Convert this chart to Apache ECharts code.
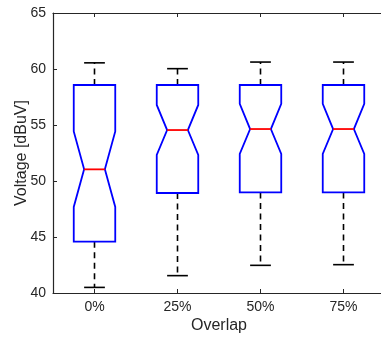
<!DOCTYPE html>
<html>
<head>
<meta charset="utf-8">
<script src="https://cdn.jsdelivr.net/npm/echarts@6/dist/echarts.min.js"></script>
<style>html,body{margin:0;padding:0;background:#fff;overflow:hidden;width:381px;height:338px;}#c{width:390px;height:338px;}</style>
</head>
<body>
<div id="c"></div>
<script>
var categories = ['0%', '25%', '50%', '75%'];
var whiskerLow = [40.5, 41.55, 42.47, 42.53];
var q1 = [44.58, 48.93, 48.98, 48.98];
var notchLow = [47.68, 52.32, 52.41, 52.41];
var median = [51.04, 54.55, 54.64, 54.64];
var notchHigh = [54.43, 56.79, 56.88, 56.88];
var q3 = [58.57, 58.57, 58.57, 58.57];
var whiskerHigh = [60.55, 60.03, 60.62, 60.62];
var yTicks = [40, 45, 50, 55, 60, 65];

var data = categories.map(function (c, i) {
  return [i, whiskerLow[i], q1[i], notchLow[i], median[i], notchHigh[i], q3[i], whiskerHigh[i]];
});

var axisColor = '#262626';
var font = 'Liberation Sans, Arial, Helvetica, sans-serif';

function renderItem(params, api) {
  var idx = api.value(0);
  var band = api.size([1, 0])[0];
  var hw = band * 0.25;
  var nw = band * 0.125;
  var cw = band * 0.125;
  function P(v) { return api.coord([idx, v]); }
  var pMin = P(api.value(1)), pQ1 = P(api.value(2)), pNl = P(api.value(3)),
      pMed = P(api.value(4)), pNh = P(api.value(5)), pQ3 = P(api.value(6)), pMax = P(api.value(7));
  var x = pMed[0];
  var poly = [
    [x - hw, pQ3[1]], [x + hw, pQ3[1]], [x + hw, pNh[1]], [x + nw, pMed[1]], [x + hw, pNl[1]],
    [x + hw, pQ1[1]], [x - hw, pQ1[1]], [x - hw, pNl[1]], [x - nw, pMed[1]], [x - hw, pNh[1]]
  ];
  var dashStyle = { stroke: '#000', lineWidth: 1.6, lineDash: [6, 4.5], fill: null };
  var solid = { stroke: '#000', lineWidth: 1.6, fill: null };
  return {
    type: 'group',
    children: [
      { type: 'line', shape: { x1: x, y1: pQ3[1], x2: x, y2: pMax[1] }, style: dashStyle },
      { type: 'line', shape: { x1: x, y1: pQ1[1], x2: x, y2: pMin[1] }, style: dashStyle },
      { type: 'line', shape: { x1: x - cw, y1: pMax[1], x2: x + cw, y2: pMax[1] }, style: solid },
      { type: 'line', shape: { x1: x - cw, y1: pMin[1], x2: x + cw, y2: pMin[1] }, style: solid },
      { type: 'polygon', shape: { points: poly }, style: { stroke: '#0000ff', lineWidth: 1.8, fill: '#fff' } },
      { type: 'line', shape: { x1: x - nw, y1: pMed[1], x2: x + nw, y2: pMed[1] }, style: { stroke: '#ff0000', lineWidth: 1.8 } }
    ]
  };
}

var chart = echarts.init(document.getElementById('c'), null, { renderer: 'canvas' });
var tickInside = { show: true, inside: true, length: 4, alignWithLabel: true, lineStyle: { color: axisColor, width: 1 } };
chart.setOption({
  animation: false,
  backgroundColor: '#fff',
  grid: { left: 53, top: 13, right: 5, bottom: 45, containLabel: false, outerBoundsMode: 'none' },
  xAxis: [
    {
      type: 'category', data: categories, position: 'bottom', boundaryGap: true,
      name: 'Overlap', nameLocation: 'middle', nameGap: 25, nameMoveOverlap: false,
      nameTextStyle: { color: axisColor, fontSize: 16, fontFamily: font },
      axisLine: { lineStyle: { color: axisColor, width: 1.2 } },
      axisTick: tickInside,
      axisLabel: { color: axisColor, fontSize: 14, fontFamily: font, margin: 7 },
      splitLine: { show: false }
    },
    {
      type: 'category', data: categories, position: 'top', boundaryGap: true,
      axisLine: { lineStyle: { color: axisColor, width: 1.2 } },
      axisTick: tickInside,
      axisLabel: { show: false },
      splitLine: { show: false }
    }
  ],
  yAxis: [
    {
      type: 'value', min: yTicks[0], max: yTicks[yTicks.length - 1], interval: 5, position: 'left',
      name: 'Voltage [dBuV]', nameLocation: 'middle', nameGap: 23, nameMoveOverlap: false,
      nameTextStyle: { color: axisColor, fontSize: 16, fontFamily: font },
      axisLine: { show: true, lineStyle: { color: axisColor, width: 1.2 } },
      axisTick: { show: true, inside: true, length: 4, lineStyle: { color: axisColor } },
      axisLabel: { color: axisColor, fontSize: 14, fontFamily: font, margin: 7 },
      splitLine: { show: false }
    },
    {
      type: 'value', min: yTicks[0], max: yTicks[yTicks.length - 1], interval: 5, position: 'right',
      axisLine: { show: true, lineStyle: { color: axisColor, width: 1.2 } },
      axisTick: { show: true, inside: true, length: 4, lineStyle: { color: axisColor } },
      axisLabel: { show: false },
      splitLine: { show: false }
    }
  ],
  series: [{
    type: 'custom',
    xAxisIndex: 0, yAxisIndex: 0,
    renderItem: renderItem,
    encode: { x: 0, y: [1, 2, 3, 4, 5, 6, 7] },
    data: data,
    clip: true
  }]
});
</script>
</body>
</html>
